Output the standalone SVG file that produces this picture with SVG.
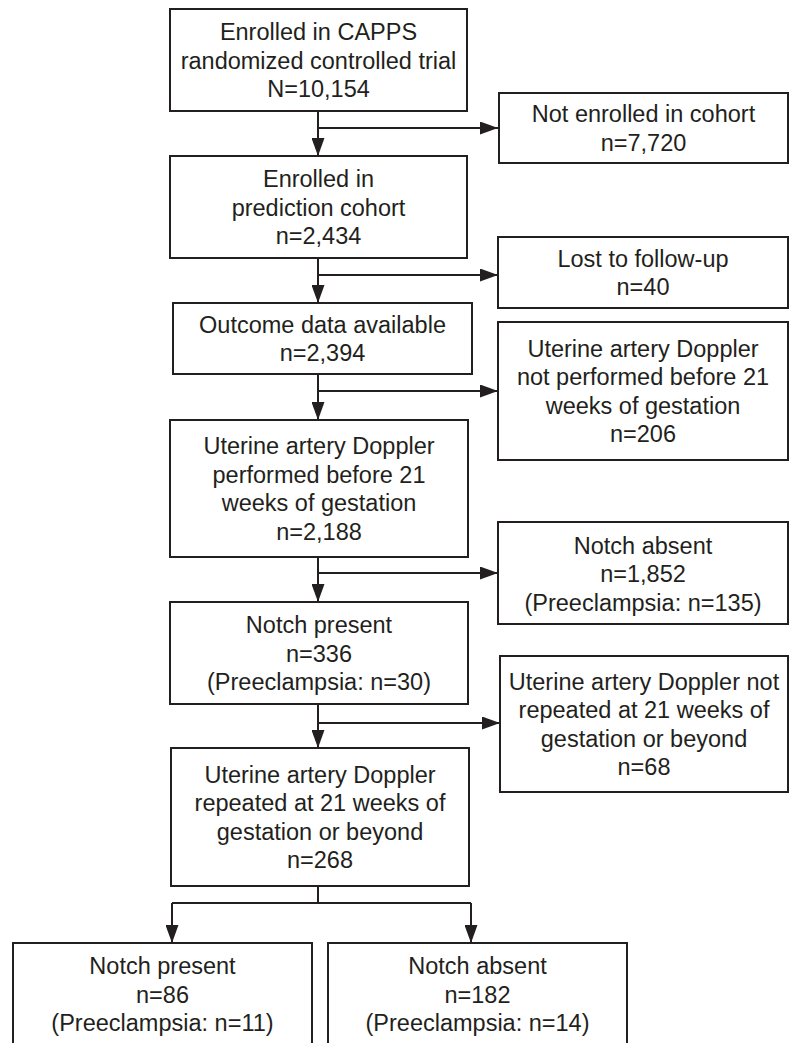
<svg xmlns="http://www.w3.org/2000/svg" width="790" height="1043" viewBox="0 0 790 1043">
<style>
.box{fill:#fff;stroke:#231f20;stroke-width:2}
.t{font-family:"Liberation Sans",Arial,sans-serif;font-size:23.5px;fill:#231f20;text-anchor:middle}
.c{fill:none;stroke:#231f20;stroke-width:2}
</style>
<defs>
<marker id="ah" markerUnits="userSpaceOnUse" markerWidth="18" markerHeight="13" refX="18" refY="6.5" orient="auto">
<path d="M0,0 L18,6.5 L0,13 z" fill="#231f20"/>
</marker>
</defs>
<rect width="790" height="1043" fill="#fff"/>
<g id="connectors">
<path class="c" d="M318,111 V156" marker-end="url(#ah)"/>
<path class="c" d="M318,128 H498" marker-end="url(#ah)"/>
<path class="c" d="M318,258 V303" marker-end="url(#ah)"/>
<path class="c" d="M318,275 H498" marker-end="url(#ah)"/>
<path class="c" d="M318,374 V420" marker-end="url(#ah)"/>
<path class="c" d="M318,391 H498" marker-end="url(#ah)"/>
<path class="c" d="M318,557 V602" marker-end="url(#ah)"/>
<path class="c" d="M318,573 H498" marker-end="url(#ah)"/>
<path class="c" d="M318,704 V748" marker-end="url(#ah)"/>
<path class="c" d="M318,723 H500" marker-end="url(#ah)"/>
<path class="c" d="M318,886 V903"/>
<path class="c" d="M172,903 H471"/>
<path class="c" d="M172,903 V943" marker-end="url(#ah)"/>
<path class="c" d="M471,903 V943" marker-end="url(#ah)"/>
</g>
<g id="n1"><rect class="box" x="170" y="9" width="297" height="102"/>
<text class="t" x="318.5" y="40">Enrolled in CAPPS</text><text class="t" x="318.5" y="68.5">randomized controlled trial</text><text class="t" x="318.5" y="97">N=10,154</text></g>
<g id="n2"><rect class="box" x="499" y="93" width="289" height="70"/>
<text class="t" x="643.5" y="122">Not enrolled in cohort</text><text class="t" x="643.5" y="150.5">n=7,720</text></g>
<g id="n3"><rect class="box" x="170" y="156" width="297" height="102"/>
<text class="t" x="318.5" y="187">Enrolled in</text><text class="t" x="318.5" y="215.5">prediction cohort</text><text class="t" x="318.5" y="244">n=2,434</text></g>
<g id="n4"><rect class="box" x="498" y="237" width="290" height="71"/>
<text class="t" x="643" y="266.5">Lost to follow-up</text><text class="t" x="643" y="295">n=40</text></g>
<g id="n5"><rect class="box" x="173" y="303" width="299" height="71"/>
<text class="t" x="322.5" y="332.5">Outcome data available</text><text class="t" x="322.5" y="361">n=2,394</text></g>
<g id="n6"><rect class="box" x="498" y="322" width="290" height="138"/>
<text class="t" x="643" y="356.5">Uterine artery Doppler</text><text class="t" x="643" y="385">not performed before 21</text><text class="t" x="643" y="413.5">weeks of gestation</text><text class="t" x="643" y="442">n=206</text></g>
<g id="n7"><rect class="box" x="170" y="420" width="298" height="137"/>
<text class="t" x="319" y="454">Uterine artery Doppler</text><text class="t" x="319" y="482.5">performed before 21</text><text class="t" x="319" y="511">weeks of gestation</text><text class="t" x="319" y="539.5">n=2,188</text></g>
<g id="n8"><rect class="box" x="498" y="522" width="290" height="102"/>
<text class="t" x="643" y="553.5">Notch absent</text><text class="t" x="643" y="582">n=1,852</text><text class="t" x="643" y="610.5">(Preeclampsia: n=135)</text></g>
<g id="n9"><rect class="box" x="170" y="602" width="298" height="102"/>
<text class="t" x="319" y="633">Notch present</text><text class="t" x="319" y="661.5">n=336</text><text class="t" x="319" y="690">(Preeclampsia: n=30)</text></g>
<g id="n10"><rect class="box" x="500" y="656" width="288" height="136"/>
<text class="t" x="644" y="689.5">Uterine artery Doppler not</text><text class="t" x="644" y="718">repeated at 21 weeks of</text><text class="t" x="644" y="746.5">gestation or beyond</text><text class="t" x="644" y="775">n=68</text></g>
<g id="n11"><rect class="box" x="171" y="748" width="298" height="138"/>
<text class="t" x="320" y="782.5">Uterine artery Doppler</text><text class="t" x="320" y="811">repeated at 21 weeks of</text><text class="t" x="320" y="839.5">gestation or beyond</text><text class="t" x="320" y="868">n=268</text></g>
<g id="n12"><rect class="box" x="13" y="943" width="299" height="104"/>
<text class="t" x="162.5" y="974">Notch present</text><text class="t" x="162.5" y="1002.5">n=86</text><text class="t" x="162.5" y="1031">(Preeclampsia: n=11)</text></g>
<g id="n13"><rect class="box" x="328" y="943" width="299" height="104"/>
<text class="t" x="477.5" y="974">Notch absent</text><text class="t" x="477.5" y="1002.5">n=182</text><text class="t" x="477.5" y="1031">(Preeclampsia: n=14)</text></g>
</svg>
